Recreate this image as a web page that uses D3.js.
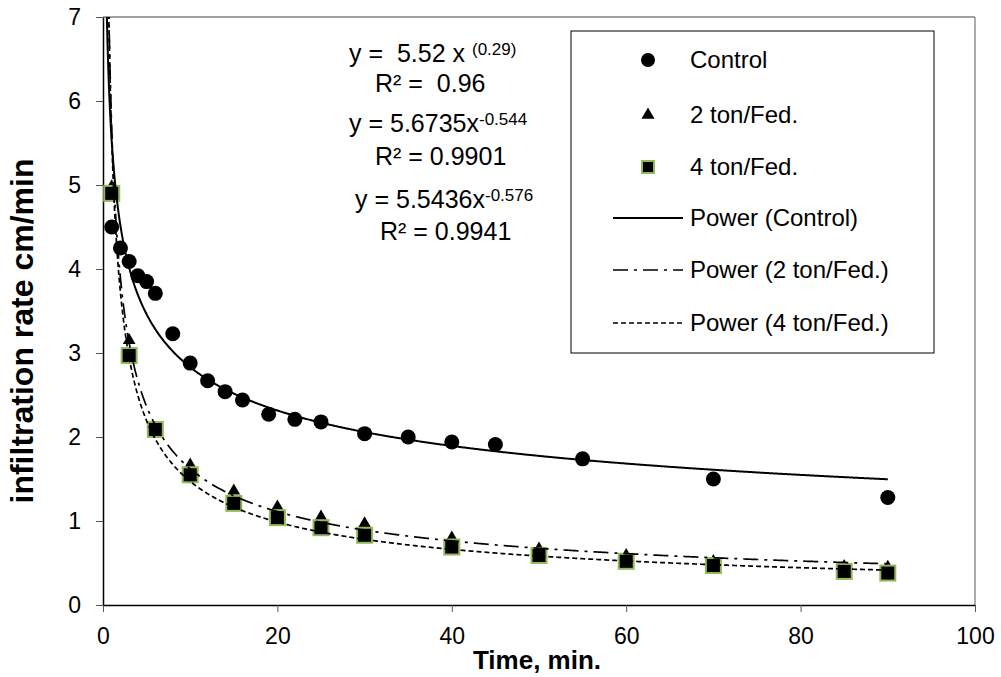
<!DOCTYPE html>
<html>
<head>
<meta charset="utf-8">
<script src="https://cdn.jsdelivr.net/npm/d3@7"></script>
<style>
  body { margin: 0; background: #fff; }
  svg { font-family: "Liberation Sans", Arial, sans-serif; }
  .eq { white-space: pre; }
</style>
</head>
<body>
<div id="chart"></div>
<script>
// Data
var controlTime = [1, 2, 3, 4, 5, 6, 8, 10, 12, 14, 16, 19, 22, 25, 30, 35, 40, 45, 55, 70, 90];
var controlRate = [4.5, 4.25, 4.09, 3.92, 3.85, 3.71, 3.23, 2.88, 2.67, 2.54, 2.44, 2.27, 2.21, 2.18, 2.04, 2.0, 1.94, 1.91, 1.74, 1.5, 1.28];

var treatTime = [1, 3, 6, 10, 15, 20, 25, 30, 40, 50, 60, 70, 85, 90];
var ton2Rate = [4.98, 3.15, 2.1, 1.67, 1.36, 1.17, 1.05, 0.97, 0.8, 0.67, 0.59, 0.52, 0.46, 0.45];
var ton4Rate = [4.9, 2.97, 2.09, 1.55, 1.21, 1.04, 0.92, 0.83, 0.69, 0.59, 0.52, 0.47, 0.4, 0.38];

// Power trendline coefficients (y = a * x^b)
var fitNames = ["Power (Control)", "Power (2 ton/Fed.)", "Power (4 ton/Fed.)"];
var fitA = [5.52, 5.6735, 5.5436];
var fitB = [-0.29, -0.544, -0.576];

var seriesNames = ["Control", "2 ton/Fed.", "4 ton/Fed."];
var xTicks = [0, 20, 40, 60, 80, 100];
var yTicks = [0, 1, 2, 3, 4, 5, 6, 7];

// Layout
var width = 1001, height = 677;
var margin = { top: 17, right: 26, bottom: 72, left: 103 };
var plotW = width - margin.left - margin.right;
var plotH = height - margin.top - margin.bottom;
var green = "#93b957";

var svg = d3.select("#chart")
  .append("svg")
  .attr("width", width)
  .attr("height", height);

var g = svg.append("g")
  .attr("transform", "translate(" + margin.left + "," + margin.top + ")");

var xScale = d3.scaleLinear().domain([0, 100]).range([0, plotW]);
var yScale = d3.scaleLinear().domain([0, 7]).range([plotH, 0]);

// Plot frame (top and right, grey)
g.append("line").attr("x1", 0).attr("x2", plotW).attr("y1", 0).attr("y2", 0)
  .attr("stroke", "#808080").attr("stroke-width", 1.3);
g.append("line").attr("x1", plotW).attr("x2", plotW).attr("y1", 0).attr("y2", plotH)
  .attr("stroke", "#808080").attr("stroke-width", 1.3);

// Axes
var xAxis = g.append("g")
  .attr("transform", "translate(0," + plotH + ")")
  .call(d3.axisBottom(xScale).tickValues(xTicks).tickFormat(d3.format("d"))
    .tickSize(7).tickSizeOuter(0).tickPadding(16));
var yAxis = g.append("g")
  .call(d3.axisLeft(yScale).tickValues(yTicks).tickFormat(d3.format("d"))
    .tickSize(7).tickSizeOuter(0).tickPadding(15));

[xAxis, yAxis].forEach(function(ax) {
  ax.select(".domain").attr("stroke", "#000").attr("stroke-width", 1.5);
  ax.selectAll(".tick line").attr("stroke", "#555").attr("stroke-width", 1);
  ax.selectAll(".tick text")
    .attr("font-family", "Liberation Sans, Arial, sans-serif")
    .attr("font-size", 23).attr("fill", "#000");
});
yAxis.selectAll(".tick text").attr("dy", "0.33em");

// Axis titles
svg.append("text")
  .attr("x", 537).attr("y", 669)
  .attr("text-anchor", "middle")
  .attr("font-weight", "bold").attr("font-size", 26)
  .text("Time, min.");

svg.append("text")
  .attr("transform", "translate(33,331) rotate(-90)")
  .attr("text-anchor", "middle")
  .attr("font-weight", "bold").attr("font-size", 32)
  .text("infiltration rate cm/min");

// Clip for the plot area
svg.append("clipPath").attr("id", "plotClip")
  .append("rect").attr("x", 0).attr("y", 0).attr("width", plotW).attr("height", plotH);

var marks = g.append("g");

// Control circles
marks.selectAll(".ctrl")
  .data(controlTime.map(function(t, i) { return { t: t, v: controlRate[i] }; }))
  .enter().append("circle")
  .attr("class", "ctrl")
  .attr("cx", function(d) { return xScale(d.t); })
  .attr("cy", function(d) { return yScale(d.v); })
  .attr("r", 7.5)
  .attr("fill", "#000");

// 2 ton triangles
var tri = d3.symbol().type(d3.symbolTriangle).size(70);
marks.selectAll(".t2")
  .data(treatTime.map(function(t, i) { return { t: t, v: ton2Rate[i] }; }))
  .enter().append("path")
  .attr("class", "t2")
  .attr("d", tri)
  .attr("transform", function(d) { return "translate(" + xScale(d.t) + "," + yScale(d.v) + ")"; })
  .attr("fill", "#000");

// 4 ton squares
marks.selectAll(".t4")
  .data(treatTime.map(function(t, i) { return { t: t, v: ton4Rate[i] }; }))
  .enter().append("rect")
  .attr("class", "t4")
  .attr("x", function(d) { return xScale(d.t) - 7.5; })
  .attr("y", function(d) { return yScale(d.v) - 7.5; })
  .attr("width", 15).attr("height", 15)
  .attr("fill", "#000")
  .attr("stroke", green).attr("stroke-width", 2);

// Trendlines
var dashes = [null, "15,6,3,6", "5,3"];
var fitX = d3.range(0.4, 90.001, 0.1);
var line = d3.line()
  .x(function(d) { return xScale(d[0]); })
  .y(function(d) { return yScale(d[1]); });

var trend = g.append("g").attr("clip-path", "url(#plotClip)");
fitA.forEach(function(a, i) {
  var pts = fitX.map(function(x) { return [x, Math.min(a * Math.pow(x, fitB[i]), 7.5)]; });
  trend.append("path")
    .datum(pts)
    .attr("d", line)
    .attr("fill", "none")
    .attr("stroke", "#000")
    .attr("stroke-width", i === 0 ? 2 : 1.7)
    .attr("stroke-dasharray", dashes[i]);
});

// Equation labels
function equation(x, y, main, sup) {
  var t = svg.append("text").attr("class", "eq")
    .attr("x", x).attr("y", y).attr("font-size", 25);
  t.append("tspan").text(main);
  if (sup) {
    t.append("tspan").attr("font-size", 17).attr("dy", -7).text(sup);
  }
}
equation(349, 62, "y =  5.52 x ", "(0.29)");
equation(375, 92, "R\u00b2 =  0.96");
equation(349, 132, "y = 5.6735x", "-0.544");
equation(375, 165, "R\u00b2 = 0.9901");
equation(355, 208, "y = 5.5436x", "-0.576");
equation(380, 240, "R\u00b2 = 0.9941");

// Legend
var legend = svg.append("g");
legend.append("rect")
  .attr("x", 571).attr("y", 31)
  .attr("width", 363).attr("height", 322)
  .attr("fill", "#fff").attr("stroke", "#000").attr("stroke-width", 1);

var rowY = [60, 115, 167, 218, 270, 323];
var labels = seriesNames.concat(fitNames);
labels.forEach(function(name, i) {
  legend.append("text")
    .attr("x", 690).attr("y", rowY[i])
    .attr("dy", "0.35em")
    .attr("font-size", 24)
    .text(name);
});
legend.append("circle").attr("cx", 648).attr("cy", rowY[0]).attr("r", 7).attr("fill", "#000");
legend.append("path").attr("d", d3.symbol().type(d3.symbolTriangle).size(75))
  .attr("transform", "translate(648," + rowY[1] + ")").attr("fill", "#000");
legend.append("rect").attr("x", 642).attr("y", rowY[2] - 6).attr("width", 12).attr("height", 12)
  .attr("fill", "#000").attr("stroke", green).attr("stroke-width", 2);
[0, 1, 2].forEach(function(i) {
  legend.append("line")
    .attr("x1", 613).attr("x2", 683)
    .attr("y1", rowY[3 + i]).attr("y2", rowY[3 + i])
    .attr("stroke", "#000")
    .attr("stroke-width", i === 0 ? 2 : 1.7)
    .attr("stroke-dasharray", dashes[i]);
});
</script>
</body>
</html>
